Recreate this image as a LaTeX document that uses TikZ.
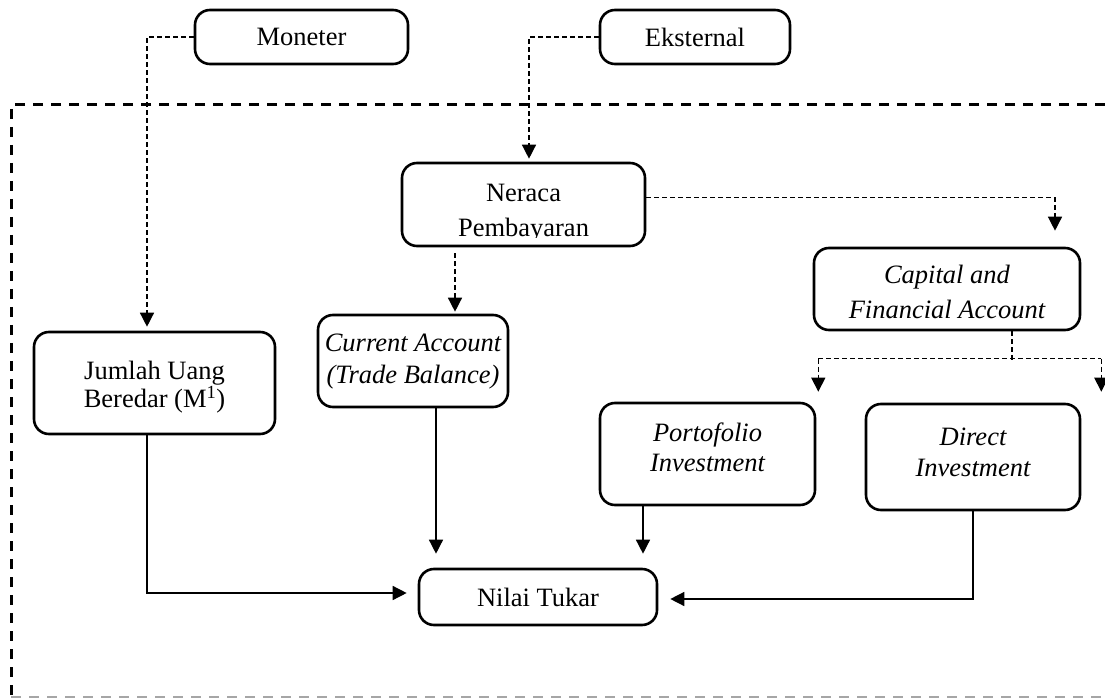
\documentclass[tikz,border=0pt]{standalone}
\usepackage{fontspec}
\setmainfont{Liberation Serif}
\usetikzlibrary{arrows.meta,calc}
\begin{document}
\begin{tikzpicture}[x=1pt,y=-1pt,
  box/.style={draw, line width=2.6pt, rounded corners=15pt, inner sep=0pt, align=center},
  txt/.style={font=\fontsize{26.5}{32}\selectfont, inner sep=0pt},
  itxt/.style={font=\fontsize{26.5}{32}\selectfont\itshape, inner sep=0pt},
  dcon/.style={line width=1.4pt, dash pattern=on 5pt off 3pt},
  scon/.style={line width=1.4pt},
  tip/.style={-{Triangle[length=14pt,width=14pt]}},
  frame/.style={line width=3pt, dash pattern=on 10pt off 8pt}
]
\useasboundingbox (0,0) rectangle (1105,700);

% frame
\coordinate (f1) at (1105,105);
\coordinate (f2) at (11,105);
\coordinate (f3) at (11,697);
\coordinate (f4) at (1105,697);
\draw[frame] (f1) -- (f2) -- (f3);
\draw[frame, black!35, line width=2pt] (f3) -- (f4);

% boxes
\node[box, txt, minimum width=213, minimum height=54] (mon) at (301.5,37) {Moneter};
\node[box, txt, minimum width=190, minimum height=54] (eks) at (695,37) {Eksternal};
\node[box, minimum width=243, minimum height=83] (ner) at (523.5,204.5) {};
\node[box, minimum width=266, minimum height=82] (cap) at (947,289) {};
\node[box, minimum width=241, minimum height=102] (jum) at (154.5,383) {};
\node[box, minimum width=190, minimum height=92] (cur) at (413,361) {};
\node[box, minimum width=215, minimum height=102] (por) at (707.5,454) {};
\node[box, minimum width=214, minimum height=106] (dir) at (973,457) {};
\node[box, txt, minimum width=238, minimum height=56] (nil) at (538,597) {Nilai Tukar};

% box texts
\node[txt, align=center, font=\fontsize{26.5}{25.5}\selectfont] (jumT) at ($(jum.center)+(0,4)$) {Jumlah Uang\\Beredar (M\textsuperscript{1})};
\node[itxt, anchor=base] (curA) at ($(cur.north)+(0,38)$) {Current Account};
\node[itxt, anchor=base] (curB) at ($(cur.north)+(0,70)$) {(Trade Balance)};
\node[itxt, anchor=base] (porA) at ($(por.north)+(0,40)$) {Portofolio};
\node[itxt, anchor=base] (porB) at ($(por.north)+(0,70)$) {Investment};
\node[itxt, anchor=base] (dirA) at ($(dir.north)+(0,43)$) {Direct};
\node[itxt, anchor=base] (dirB) at ($(dir.north)+(0,74)$) {Investment};

% clipped texts
\begin{scope}
\clip (ner.north west) rectangle ($(ner.south east)+(0,-10)$);
\node[txt, anchor=base] (nerA) at ($(ner.north)+(0,40)$) {Neraca};
\node[txt, anchor=base] (nerB) at ($(ner.north)+(0,75)$) {Pembayaran};
\end{scope}
\begin{scope}
\clip (cap.north west) rectangle ($(cap.south east)+(0,-12)$);
\node[itxt, anchor=base] (capA) at ($(cap.north)+(0,37)$) {Capital and};
\node[itxt, anchor=base] (capB) at ($(cap.north)+(0,72)$) {Financial Account};
\end{scope}

% dashed connectors
\draw[dcon, tip] (mon.west) -| ($(jum.north)+(-7.5,-4)$);
\draw[dcon, tip] (eks.west) -| ($(ner.north)+(5.5,-3)$);
\draw[dcon, tip] ($(ner.east)+(0,-7)$) -| ($(cap.north)+(108,-16)$);
\coordinate (nd) at ($(ner.south)+(-68.5,6)$);
\draw[dcon, tip] (nd) -- ($(cur.north)+(42,-2)$);
\coordinate (bc) at ($(cap.south)+(65,31)$);
\coordinate (bl) at ($(por.north east)+(2,-43)$);
\coordinate (brr) at ($(dir.north east)+(20,-44)$);
\draw[dcon] ($(cap.south)+(65,0)$) -- (bc);
\draw[dcon] (bl) -- (bl -| brr);
\draw[dcon, tip] (bl) -- ++(0,33);
\draw[dcon, tip] (bl -| brr) -- ++(0,33);

% solid connectors
\draw[scon, tip] ($(jum.south)+(-7.5,0)$) |- ($(nil.west)+(-11,-4)$);
\draw[scon, tip] ($(cur.south)+(23,0)$) -- ($(nil.north)+(-102,-14)$);
\draw[scon, tip] ($(por.south)+(-64.5,0)$) -- ($(nil.north)+(105,-14)$);
\draw[scon, tip] (dir.south) |- ($(nil.east)+(12,2)$);
\end{tikzpicture}
\end{document}
